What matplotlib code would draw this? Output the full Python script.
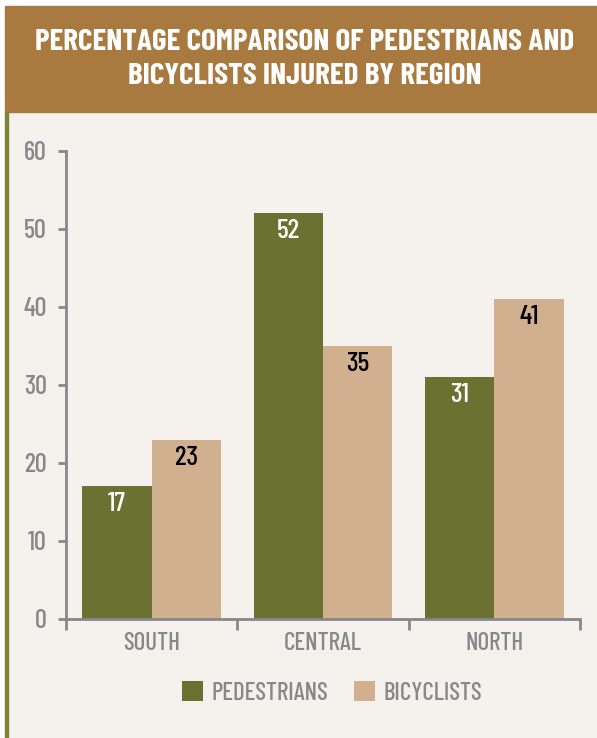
from matplotlib import pyplot as plt
from matplotlib.patches import Rectangle
import numpy as np

# data
regions = ['SOUTH', 'CENTRAL', 'NORTH']
pedestrians = [17, 52, 31]
bicyclists = [23, 35, 41]
yticks = [0, 10, 20, 30, 40, 50, 60]

GREEN = '#6b7130'
TAN = '#d0b08e'
BROWN = '#a87a40'
BG = '#f5f2ed'
GRAY = '#87888c'

plt.rcParams['font.family'] = ['Barlow Condensed', 'DejaVu Sans']
plt.rcParams['font.weight'] = 500

W, H = 597, 738
fig = plt.figure(figsize=(W / 100, H / 100), dpi=100)
fig.patch.set_facecolor('white')


def fx(px):
    return px / W


def fy(py):
    return 1 - py / H


# background panel, title bar and left green rule
fig.patches.append(Rectangle((fx(5), 0), fx(597) - fx(5), fy(112),
                             transform=fig.transFigure, color=BG, zorder=-10))
fig.patches.append(Rectangle((fx(5), fy(112)), fx(597) - fx(5), fy(6) - fy(112),
                             transform=fig.transFigure, color=BROWN, zorder=-10))
fig.patches.append(Rectangle((fx(5), 0), fx(2.5), fy(112),
                             transform=fig.transFigure, color='#7d8535', zorder=-9))

fig.text(fx(305), fy(42), 'PERCENTAGE COMPARISON OF PEDESTRIANS AND',
         ha='center', va='center', color='white', fontsize=22.5, fontweight='bold')
fig.text(fx(305), fy(77), 'BICYCLISTS INJURED BY REGION',
         ha='center', va='center', color='white', fontsize=22.5, fontweight='bold')

# axes: y=0 at px 619, y=60 at px 151; x from px 66 to 580
ax = fig.add_axes([fx(66), fy(619), fx(580) - fx(66), fy(151) - fy(619)])
ax.set_facecolor('none')
ax.set_xlim(0, 3)
ax.set_ylim(0, 60)

x = np.arange(len(regions)) + 0.5
bw = 0.405
ax.bar(x - bw / 2, pedestrians, bw, color=GREEN, label='PEDESTRIANS')
ax.bar(x + bw / 2, bicyclists, bw, color=TAN, label='BICYCLISTS')

for xi, v in zip(x - bw / 2, pedestrians):
    ax.text(xi, v - 2.3, str(v), ha='center', va='center', color='white', fontsize=20)
for xi, v in zip(x + bw / 2, bicyclists):
    ax.text(xi, v - 2.3, str(v), ha='center', va='center', color='black', fontsize=20)

for s in ['top', 'right']:
    ax.spines[s].set_visible(False)
for s in ['left', 'bottom']:
    ax.spines[s].set_color(GRAY)
    ax.spines[s].set_linewidth(2)

ax.set_yticks(yticks)
ax.tick_params(axis='y', colors=GRAY, labelsize=19, length=6, width=2, pad=8)
ax.set_xticks([0, 1, 2, 3])
ax.set_xticklabels([])
ax.tick_params(axis='x', colors=GRAY, length=8, width=2)
ax.set_xticks(x, minor=True)
ax.set_xticklabels(regions, minor=True)
ax.tick_params(axis='x', which='minor', length=0, labelsize=18, labelcolor=GRAY, pad=9)

leg = fig.legend(loc='center', bbox_to_anchor=(fx(332), fy(693)), ncol=2, frameon=False,
                 fontsize=18, handlelength=0.85, handleheight=0.85, columnspacing=1.0,
                 handletextpad=0.35)
for t in leg.get_texts():
    t.set_color(GRAY)

fig.savefig('out.png', dpi=100, facecolor=fig.get_facecolor())
